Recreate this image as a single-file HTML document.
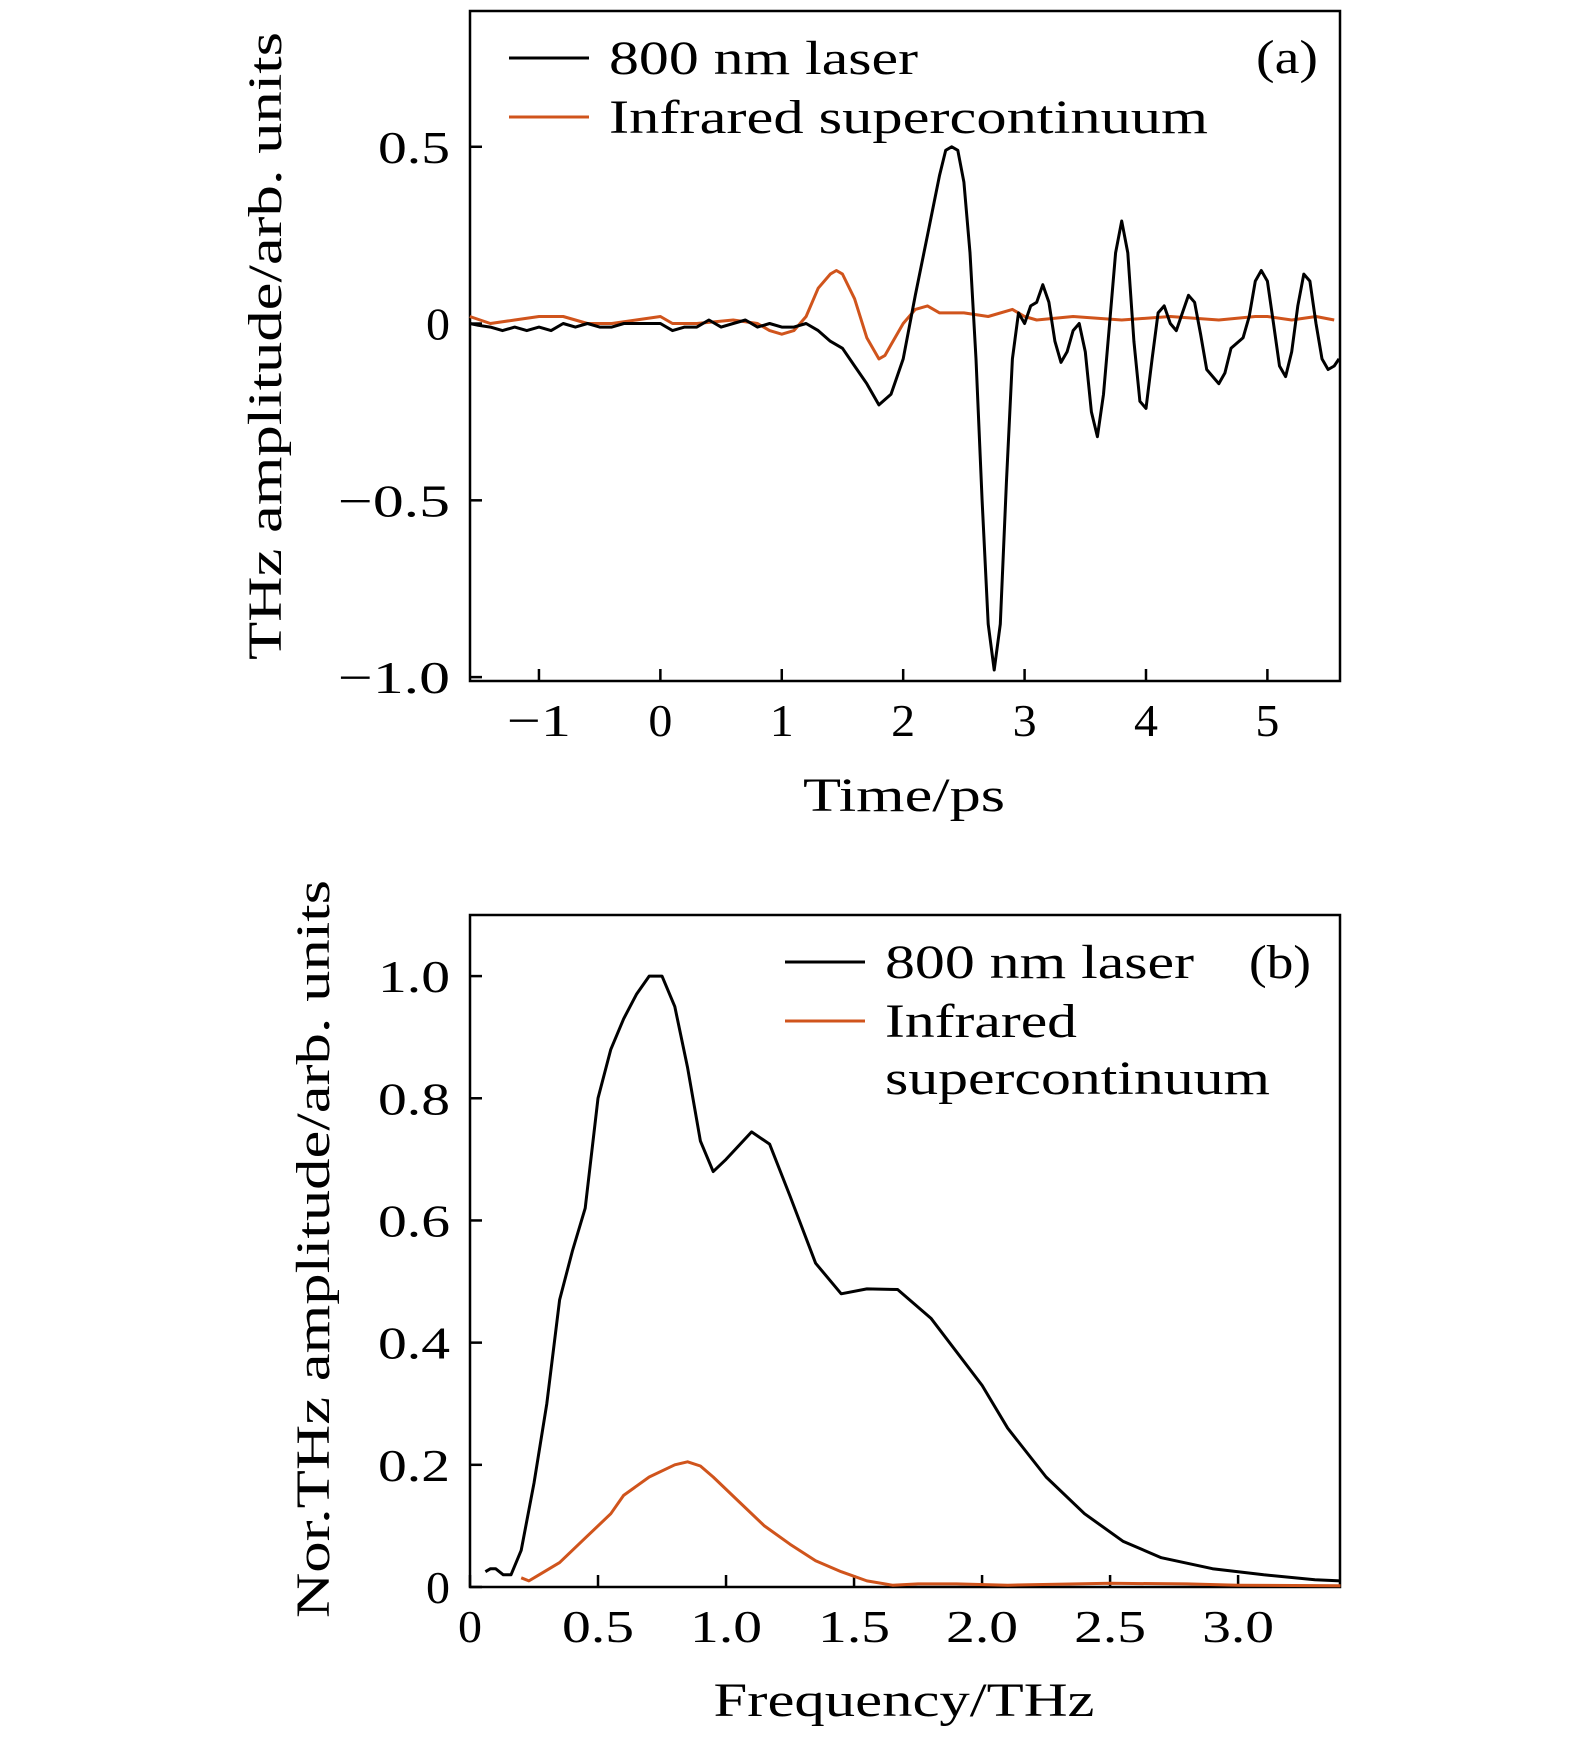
<!DOCTYPE html>
<html><head><meta charset="utf-8"><style>
body{margin:0;background:#fff;}
svg text{font-family:"Liberation Serif",serif;fill:#000;}
</style></head><body>
<svg id="fig" width="1575" height="1732" viewBox="0 0 1575 1732" xmlns="http://www.w3.org/2000/svg"></svg>
<script>
// ---- Panel (a) data ----
const aTimeBlack=[-1.57,-1.5,-1.4,-1.3,-1.2,-1.1,-1.0,-0.9,-0.8,-0.7,-0.6,-0.5,-0.4,-0.3,-0.2,-0.1,0,0.1,0.2,0.3,0.4,0.5,0.6,0.7,0.8,0.9,1.0,1.1,1.2,1.3,1.4,1.5,1.6,1.7,1.8,1.9,2.0,2.1,2.2,2.3,2.35,2.4,2.45,2.5,2.55,2.6,2.65,2.7,2.75,2.8,2.85,2.9,2.95,3.0,3.05,3.1,3.15,3.2,3.25,3.3,3.35,3.4,3.45,3.5,3.55,3.6,3.65,3.7,3.75,3.8,3.85,3.9,3.95,4.0,4.05,4.1,4.15,4.2,4.25,4.3,4.35,4.4,4.45,4.5,4.6,4.65,4.7,4.8,4.85,4.9,4.95,5.0,5.05,5.1,5.15,5.2,5.25,5.3,5.35,5.4,5.45,5.5,5.55,5.59];
const aBlack=[0,-0.005,-0.01,-0.02,-0.01,-0.02,-0.01,-0.02,0.0,-0.01,0.0,-0.01,-0.01,0.0,0.0,0.0,0.0,-0.02,-0.01,-0.01,0.01,-0.01,0.0,0.01,-0.01,0.0,-0.01,-0.01,0.0,-0.02,-0.05,-0.07,-0.12,-0.17,-0.23,-0.2,-0.1,0.08,0.25,0.42,0.49,0.5,0.49,0.4,0.2,-0.1,-0.5,-0.85,-0.98,-0.85,-0.45,-0.1,0.03,0.0,0.05,0.06,0.11,0.06,-0.05,-0.11,-0.08,-0.02,0.0,-0.08,-0.25,-0.32,-0.2,0.0,0.2,0.29,0.2,-0.05,-0.22,-0.24,-0.1,0.03,0.05,0.0,-0.02,0.03,0.08,0.06,-0.03,-0.13,-0.17,-0.14,-0.07,-0.04,0.02,0.12,0.15,0.12,0.0,-0.12,-0.15,-0.08,0.05,0.14,0.12,0.0,-0.1,-0.13,-0.12,-0.1];
const aTimeOrange=[-1.57,-1.4,-1.2,-1.0,-0.8,-0.6,-0.4,-0.2,0,0.1,0.3,0.6,0.8,0.9,1.0,1.1,1.2,1.3,1.4,1.45,1.5,1.6,1.7,1.8,1.85,1.9,2.0,2.1,2.2,2.3,2.5,2.7,2.9,3.0,3.1,3.4,3.8,4.2,4.6,4.9,5.0,5.2,5.4,5.55];
const aOrange=[0.02,0.0,0.01,0.02,0.02,0.0,0.0,0.01,0.02,0.0,0.0,0.01,0.0,-0.02,-0.03,-0.02,0.02,0.1,0.14,0.15,0.14,0.07,-0.04,-0.1,-0.09,-0.06,0.0,0.04,0.05,0.03,0.03,0.02,0.04,0.02,0.01,0.02,0.01,0.02,0.01,0.02,0.02,0.01,0.02,0.01];
const aXTicks=[-1,0,1,2,3,4,5];
const aXTickLabels=["\u22121","0","1","2","3","4","5"];
const aYTicks=[0.5,0,-0.5,-1.0];
const aYTickLabels=["0.5","0","\u22120.5","\u22121.0"];
// ---- Panel (b) data ----
const bFreqBlack=[0.06,0.08,0.1,0.13,0.16,0.2,0.25,0.3,0.35,0.4,0.45,0.5,0.55,0.6,0.65,0.7,0.75,0.8,0.85,0.9,0.95,1.0,1.1,1.17,1.25,1.35,1.45,1.55,1.67,1.8,2.0,2.1,2.25,2.4,2.55,2.7,2.9,3.1,3.3,3.4];
const bBlack=[0.025,0.03,0.03,0.02,0.02,0.06,0.17,0.3,0.47,0.55,0.62,0.8,0.88,0.93,0.97,1.0,1.0,0.95,0.85,0.73,0.68,0.7,0.745,0.725,0.64,0.53,0.48,0.488,0.487,0.44,0.33,0.26,0.18,0.12,0.075,0.048,0.03,0.02,0.012,0.01];
const bFreqOrange=[0.2,0.23,0.27,0.35,0.45,0.55,0.6,0.7,0.8,0.85,0.9,0.95,1.05,1.15,1.25,1.35,1.45,1.55,1.65,1.75,1.9,2.1,2.5,2.8,3.0,3.4];
const bOrange=[0.015,0.01,0.02,0.04,0.08,0.12,0.15,0.18,0.2,0.205,0.198,0.18,0.14,0.1,0.07,0.043,0.025,0.01,0.003,0.005,0.005,0.003,0.006,0.005,0.003,0.002];
const bXTicks=[0,0.5,1.0,1.5,2.0,2.5,3.0];
const bXTickLabels=["0","0.5","1.0","1.5","2.0","2.5","3.0"];
const bYTicks=[0,0.2,0.4,0.6,0.8,1.0];
const bYTickLabels=["0","0.2","0.4","0.6","0.8","1.0"];

const NS="http://www.w3.org/2000/svg";
const svg=document.getElementById('fig');
function mk(tag,attrs,parent){const e=document.createElementNS(NS,tag);for(const k in attrs)e.setAttribute(k,attrs[k]);(parent||svg).appendChild(e);return e;}
function txt(s,attrs,parent){const e=mk('text',attrs,parent);e.textContent=s;return e;}
function tw(s){return s.length*24+ (s.indexOf('\u2212')>=0?16:0);}

function panel(p){
  const g=mk('g',{});
  
  
  const L=470,R=1340,T=p.top,B=p.bottom;
  const X=v=>L+(v-p.xmin)/(p.xmax-p.xmin)*(R-L);
  const Y=v=>B-(v-p.ymin)/(p.ymax-p.ymin)*(B-T);
  const fr=mk('rect',{x:L,y:T,width:R-L,height:B-T,fill:'none',stroke:'#000','stroke-width':2.5},g);
  
  
  p.xt.forEach((v,i)=>{
    const t=mk('line',{x1:X(v),x2:X(v),y1:B,y2:B-12,stroke:'#000','stroke-width':2.5},g);
    
    
    const l=txt(p.xl[i],{x:X(v),y:B+55,'text-anchor':'middle','font-size':46,textLength:tw(p.xl[i]),lengthAdjust:'spacingAndGlyphs'},g);
    
    
  });
  p.yt.forEach((v,i)=>{
    const t=mk('line',{x1:L,x2:L+12,y1:Y(v),y2:Y(v),stroke:'#000','stroke-width':2.5},g);
    
    
    const l=txt(p.yl[i],{x:L-20,y:Y(v)+16,'text-anchor':'end','font-size':46,textLength:tw(p.yl[i]),lengthAdjust:'spacingAndGlyphs'},g);
    
    
  });
  p.series.forEach(s=>{
    const d=s.x.map((v,i)=>(i?'L':'M')+X(v).toFixed(1)+','+Y(s.y[i]).toFixed(1)).join(' ');
    const pa=mk('path',{d:d,fill:'none',stroke:s.c,'stroke-width':3,'stroke-linejoin':'round'},g);
    
    
  });
  const xt=txt(p.xtitle,{x:904,y:p.xty,'text-anchor':'middle','font-size':48,textLength:p.xtw,lengthAdjust:'spacingAndGlyphs'},g);
  
  
  const yt=txt(p.ytitle,{x:0,y:0,'text-anchor':'middle','font-size':48,textLength:p.ytw,lengthAdjust:'spacingAndGlyphs',transform:`translate(${p.ytx},${p.yty}) rotate(-90)`},g);
  
  
  p.legend.forEach(e=>{
    const ln=mk('line',{x1:e.x1,x2:e.x1+80,y1:e.y,y2:e.y,stroke:e.c,'stroke-width':3},g);
    
    
    e.lines.forEach((s,k)=>{
      const t=txt(s,{x:e.x1+100,y:e.y+16+k*57,'font-size':48,textLength:e.w[k],lengthAdjust:'spacingAndGlyphs'},g);
      
      
    });
  });
  const pl=txt(p.label,{x:p.lx,y:p.ly,'text-anchor':'end','font-size':48,textLength:62,lengthAdjust:'spacingAndGlyphs'},g);
  
  
}

panel({name:'panel-a',top:11,bottom:681,xmin:-1.568,xmax:5.598,ymin:-1.011,ymax:0.884,
  xt:aXTicks,xl:aXTickLabels,yt:aYTicks,yl:aYTickLabels,
  series:[{x:aTimeOrange,y:aOrange,c:'#d0541c',n:'infrared-line-a'},{x:aTimeBlack,y:aBlack,c:'#000',n:'laser-line-a'}],
  xtitle:'Time/ps',xty:811,xtw:202,ytitle:'THz amplitude/arb. units',ytw:628,ytx:281,yty:346,
  legend:[{x1:509,y:58,c:'#000',lines:['800 nm laser'],w:[309]},{x1:509,y:117,c:'#d0541c',lines:['Infrared supercontinuum'],w:[599]}],
  label:'(a)',lx:1318,ly:73});
panel({name:'panel-b',top:915,bottom:1587,xmin:0,xmax:3.398,ymin:0,ymax:1.1,
  xt:bXTicks,xl:bXTickLabels,yt:bYTicks,yl:bYTickLabels,
  series:[{x:bFreqOrange,y:bOrange,c:'#d0541c',n:'infrared-line-b'},{x:bFreqBlack,y:bBlack,c:'#000',n:'laser-line-b'}],
  xtitle:'Frequency/THz',xty:1716,xtw:381,ytitle:'Nor.THz amplitude/arb. units',ytw:738,ytx:329,yty:1249,
  legend:[{x1:785,y:962,c:'#000',lines:['800 nm laser'],w:[309]},{x1:785,y:1021,c:'#d0541c',lines:['Infrared','supercontinuum'],w:[192,385]}],
  label:'(b)',lx:1311,ly:978});
</script>
</body></html>
